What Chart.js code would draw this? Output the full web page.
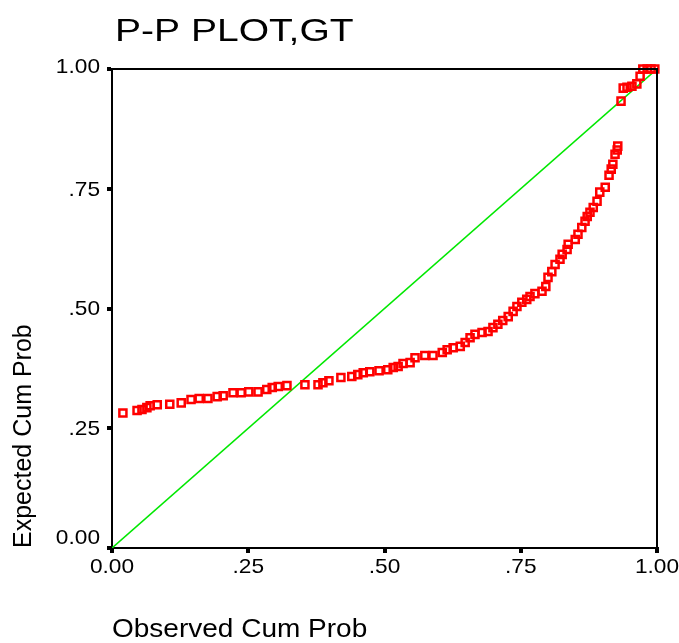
<!DOCTYPE html>
<html lang="en">
<head>
    <meta charset="UTF-8">
    <title>P-P PLOT,GT</title>
    <script src="https://cdn.jsdelivr.net/npm/chart.js"></script>
    <style>
        body {
            margin: 0;
            background: #ffffff;
        }
        .container {
            width: 679px;
            height: 643px;
        }
    </style>
</head>
<body>
    <div class="container">
        <canvas id="grafico" width="679" height="643"></canvas>
    </div>
    <script>
    // observed vs expected cumulative probabilities
    const observed = [0.020, 0.046, 0.055, 0.064, 0.070, 0.083, 0.106, 0.127, 0.145, 0.160,
        0.176, 0.193, 0.204, 0.222, 0.237, 0.251, 0.268, 0.284, 0.294, 0.305,
        0.321, 0.354, 0.378, 0.387, 0.398, 0.420, 0.440, 0.451, 0.461, 0.473,
        0.490, 0.506, 0.516, 0.525, 0.534, 0.547, 0.556, 0.574, 0.589, 0.606,
        0.615, 0.626, 0.639, 0.648, 0.657, 0.666, 0.679, 0.690, 0.699, 0.708,
        0.717, 0.727, 0.736, 0.743, 0.752, 0.761, 0.767, 0.776, 0.789, 0.796,
        0.800, 0.807, 0.813, 0.822, 0.826, 0.835, 0.837, 0.850, 0.855, 0.862,
        0.868, 0.872, 0.877, 0.883, 0.890, 0.895, 0.905, 0.912, 0.916, 0.919,
        0.923, 0.927, 0.928, 0.934, 0.938, 0.945, 0.954, 0.963, 0.969, 0.974,
        0.982, 0.989, 0.996];
    const expected = [0.282, 0.287, 0.289, 0.293, 0.297, 0.299, 0.300, 0.303, 0.310, 0.312,
        0.312, 0.316, 0.318, 0.324, 0.324, 0.326, 0.326, 0.331, 0.335, 0.337,
        0.339, 0.341, 0.341, 0.345, 0.349, 0.356, 0.358, 0.362, 0.366, 0.368,
        0.370, 0.372, 0.377, 0.379, 0.385, 0.387, 0.397, 0.402, 0.402, 0.408,
        0.414, 0.418, 0.421, 0.429, 0.439, 0.446, 0.450, 0.452, 0.460, 0.467,
        0.475, 0.483, 0.494, 0.504, 0.513, 0.519, 0.525, 0.531, 0.536, 0.546,
        0.565, 0.577, 0.592, 0.603, 0.613, 0.623, 0.634, 0.644, 0.655, 0.669,
        0.682, 0.692, 0.701, 0.711, 0.724, 0.743, 0.753, 0.778, 0.791, 0.801,
        0.822, 0.831, 0.839, 0.933, 0.960, 0.962, 0.964, 0.969, 0.985, 1.000,
        1.000, 1.000, 1.000];
    const refLine = [0, 1];
    const tickValues = [0, 0.25, 0.5, 0.75, 1];
    const tickLabels = ["0.00", ".25", ".50", ".75", "1.00"];
    // small vertical shifts of the y labels, like in the original output
    const yLabelShift = [-10, 1, 1, 1, -2];

    const FONT = '"Liberation Sans", Arial, sans-serif';

    function stretchText(ctx, text, x, y, sx, align, baseline) {
        ctx.save();
        ctx.translate(x, y);
        ctx.scale(sx, 1);
        ctx.textAlign = align;
        ctx.textBaseline = baseline;
        ctx.fillText(text, 0, 0);
        ctx.restore();
    }

    const textoPlugin = {
        id: "textos",
        afterDraw(chart) {
            let ctx = chart.ctx;
            let area = chart.chartArea;
            let xs = chart.scales.x, ys = chart.scales.y;

            // top and right edges of the frame
            ctx.save();
            ctx.strokeStyle = "#000";
            ctx.lineWidth = 2;
            ctx.beginPath();
            ctx.moveTo(area.left, area.top);
            ctx.lineTo(area.right, area.top);
            ctx.lineTo(area.right, area.bottom);
            ctx.stroke();
            ctx.restore();

            ctx.save();
            ctx.fillStyle = "#000";

            ctx.font = "32px " + FONT;
            stretchText(ctx, "P-P PLOT,GT", 115, 41, 1.22, "left", "alphabetic");

            ctx.font = "21px " + FONT;
            tickValues.forEach(function(v, i) {
                stretchText(ctx, tickLabels[i], 100, ys.getPixelForValue(v) + yLabelShift[i], 1.08, "right", "middle");
                stretchText(ctx, tickLabels[i], xs.getPixelForValue(v), 567, 1.08, "center", "middle");
            });

            ctx.font = "25px " + FONT;
            stretchText(ctx, "Observed Cum Prob", 112, 637, 1.12, "left", "alphabetic");

            ctx.translate(31, area.bottom);
            ctx.rotate(-Math.PI / 2);
            ctx.textAlign = "left";
            ctx.textBaseline = "alphabetic";
            ctx.fillText("Expected Cum Prob", 0, 0);
            ctx.restore();
        }
    };

    let puntos = observed.map(function(x, i) { return {x: x, y: expected[i]}; });
    let diagonal = refLine.map(function(v) { return {x: v, y: v}; });

    let ctx = document.getElementById("grafico").getContext("2d");
    window.miGrafico = new Chart(ctx, {
        type: "scatter",
        data: {
            datasets: [{
                label: "GT",
                data: puntos,
                pointStyle: "rect",
                pointRadius: 5,
                borderColor: "#ff0000",
                borderWidth: 2.5,
                backgroundColor: "rgba(0,0,0,0)",
                clip: false,
                order: 0
            }, {
                label: "reference",
                type: "line",
                data: diagonal,
                borderColor: "#00e800",
                borderWidth: 1.6,
                pointRadius: 0,
                order: 1
            }]
        },
        options: {
            responsive: false,
            animation: false,
            layout: {
                padding: {top: 69, right: 22, left: 0, bottom: 0}
            },
            plugins: {
                legend: {display: false},
                tooltip: {enabled: false}
            },
            scales: {
                x: {
                    type: "linear",
                    min: 0,
                    max: 1,
                    afterBuildTicks: function(scale) {
                        scale.ticks = tickValues.map(function(v) { return {value: v}; });
                    },
                    afterFit: function(scale) { scale.height = 95; },
                    ticks: {display: false},
                    grid: {drawOnChartArea: false, color: "#000", lineWidth: 4, tickLength: 5},
                    border: {color: "#000", width: 2}
                },
                y: {
                    type: "linear",
                    min: 0,
                    max: 1,
                    afterBuildTicks: function(scale) {
                        scale.ticks = tickValues.map(function(v) { return {value: v}; });
                    },
                    afterFit: function(scale) { scale.width = 112; },
                    ticks: {display: false},
                    grid: {drawOnChartArea: false, color: "#000", lineWidth: 4, tickLength: 5},
                    border: {color: "#000", width: 2}
                }
            }
        },
        plugins: [textoPlugin]
    });
    </script>
</body>
</html>
